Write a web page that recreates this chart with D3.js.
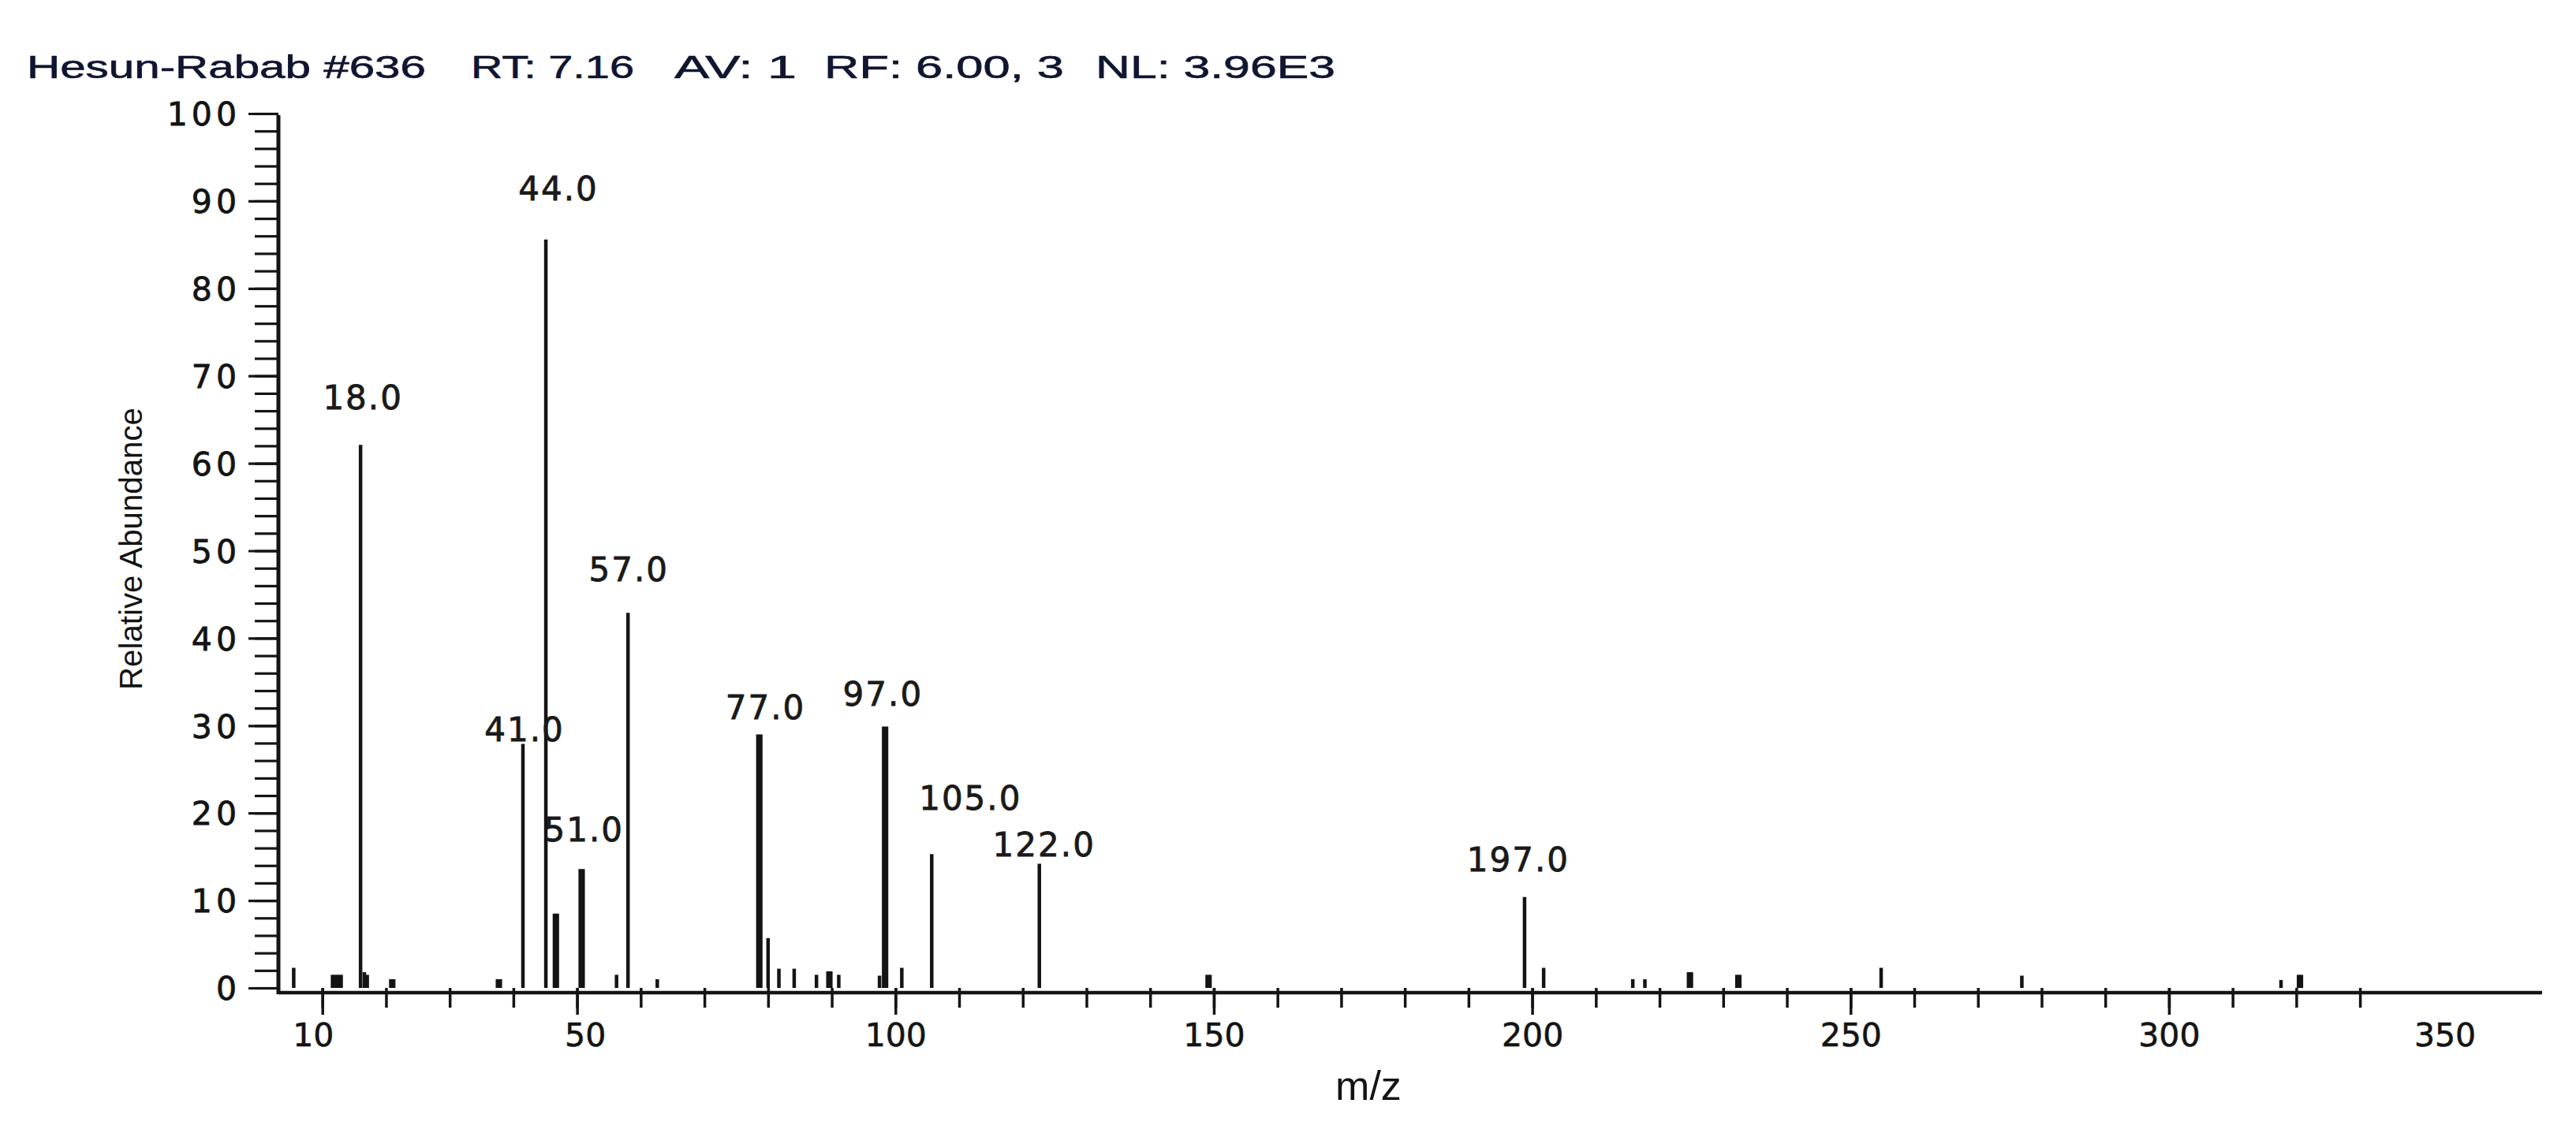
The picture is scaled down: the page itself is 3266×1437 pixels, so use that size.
<!DOCTYPE html>
<html><head><meta charset="utf-8">
<script src="https://cdn.jsdelivr.net/npm/d3@7"></script>
<style>html,body{margin:0;padding:0;background:#fff;} svg{display:block;}</style>
</head><body>
<svg id="chart" width="3266" height="1437"></svg>
<script>
// ---------------- data ----------------
const titleParts = ["Hesun-Rabab #636", "RT: 7.16", "AV: 1", "RF: 6.00, 3", "NL: 3.96E3"];

const peakMz = [5.5, 11.6, 12.05, 12.5, 12.95, 16.0, 16.6, 17.05, 20.75, 21.2, 37.5, 37.95, 41.5, 45.1, 46.45, 46.9,
  50.5, 50.95, 56.2, 58.0, 62.6, 78.4, 78.85, 80.0, 81.7, 84.1, 87.6, 89.4, 89.85, 91.1, 97.5, 98.15, 98.6,
  101.0, 105.7, 122.6, 148.95, 149.4, 198.8, 201.8, 215.8, 217.7, 224.55, 225.0, 232.15, 232.6, 254.8,
  276.9, 317.6, 320.35, 320.8];
const peakAbund = [2.3, 1.5, 1.5, 1.5, 1.5, 62.1, 1.8, 1.5, 1.0, 1.0, 1.0, 1.0, 27.9, 85.6, 8.5, 8.5,
  13.6, 13.6, 1.5, 42.9, 1.0, 29.0, 29.0, 5.7, 2.2, 2.2, 1.5, 1.9, 1.9, 1.5, 1.4, 29.9, 29.9,
  2.3, 15.3, 14.2, 1.5, 1.5, 10.4, 2.3, 1.0, 1.0, 1.8, 1.8, 1.5, 1.5, 2.3,
  1.4, 0.9, 1.5, 1.5];

const labelText  = ["18.0", "41.0", "44.0", "51.0", "57.0", "77.0", "97.0", "105.0", "122.0", "197.0"];
const labelMz    = [16.0, 41.5, 45.1, 50.7, 58.0, 78.6, 98.4, 105.7, 122.6, 198.8];
const labelAbund = [62.1, 27.9, 85.6, 13.6, 42.9, 29.0, 29.9, 15.3, 14.2, 10.4];

const xMinorTicks = [10,20,30,40,50,60,70,80,90,100,110,120,130,140,150,160,170,180,190,200,
  210,220,230,240,250,260,270,280,290,300,310,320,330];
const xMajorTicks = [10, 50, 100, 150, 200, 250, 300];
const xTickLabels = ["10", "50", "100", "150", "200", "250", "300", "350"];
const xLabelValues = [10, 50, 100, 150, 200, 250, 300, 350];
const yTickLabels = ["0","10","20","30","40","50","60","70","80","90","100"];
const yLabelValues = [0,10,20,30,40,50,60,70,80,90,100];
const yMinorTicks = d3.range(0, 101, 2);
const xAxisTitle = "m/z";
const yAxisTitle = "Relative Abundance";

// ---------------- layout ----------------
const titleLayout = [[34, 506], [597, 207], [855, 155], [1045, 304], [1389, 304]]; // [x, width]
const labelLayout = [[3,45],[2,4],[16,50],[3,35],[1,40],[8,19],[-3,26],[49,56],[6,10],[-8,33]]; // [dx, gap]
const xLabelNudge = [-12, 10, 0, 0, 0, 0, 0, -54];
const ink = "#141414";

const svg = d3.select("#chart");
svg.append("rect").attr("width", 3266).attr("height", 1437).attr("fill", "#fff");

const x = d3.scaleLinear().domain([3.1, 358.6]).range([353, 3223]);
const y = d3.scaleLinear().domain([0, 100]).range([1253, 144]);
const axisLineY = y(0) + 6;

// title
svg.selectAll("text.title").data(titleParts).join("text")
  .attr("class", "title")
  .attr("x", (d, i) => titleLayout[i][0])
  .attr("y", 99)
  .attr("textLength", (d, i) => titleLayout[i][1])
  .attr("lengthAdjust", "spacingAndGlyphs")
  .attr("font-family", "Liberation Sans, Arial, sans-serif")
  .attr("font-size", 40)
  .attr("fill", "#101530")
  .attr("stroke", "#101530").attr("stroke-width", 0.6)
  .text(d => d);

// y axis minor ticks
svg.append("g").attr("transform", `translate(${x.range()[0]},0)`)
  .call(d3.axisLeft(y).tickValues(yMinorTicks).tickSize(30).tickFormat(""))
  .call(g => g.select(".domain").remove())
  .call(g => g.selectAll("line").attr("stroke", ink).attr("stroke-width", 3.2));

// y axis major ticks + labels
svg.append("g").attr("transform", `translate(${x.range()[0]},0)`)
  .call(d3.axisLeft(y).tickValues(yLabelValues).tickSize(38).tickPadding(10)
    .tickFormat((d, i) => yTickLabels[i]))
  .call(g => g.select(".domain").remove())
  .call(g => g.selectAll("line").attr("stroke", ink).attr("stroke-width", 3.2))
  .call(g => g.selectAll("text")
    .attr("font-family", "DejaVu Sans, sans-serif").attr("font-size", 41)
    .attr("letter-spacing", 5).attr("fill", ink).attr("dy", "0.36em")
    .attr("stroke", ink).attr("stroke-width", 0.8));

// y axis line
svg.append("line")
  .attr("x1", x.range()[0]).attr("x2", x.range()[0])
  .attr("y1", y(100) + 2).attr("y2", axisLineY + 2)
  .attr("stroke", ink).attr("stroke-width", 5);

// x axis line
svg.append("line")
  .attr("x1", x.range()[0]).attr("x2", x.range()[1])
  .attr("y1", axisLineY).attr("y2", axisLineY)
  .attr("stroke", ink).attr("stroke-width", 4.5);

// x minor ticks
svg.append("g").attr("transform", `translate(0,${y(0)})`)
  .call(d3.axisBottom(x).tickValues(xMinorTicks).tickSize(25).tickFormat(""))
  .call(g => g.select(".domain").remove())
  .call(g => g.selectAll("line").attr("stroke", ink).attr("stroke-width", 3.5));

// x major ticks
svg.append("g").attr("transform", `translate(0,${y(0)})`)
  .call(d3.axisBottom(x).tickValues(xMajorTicks).tickSize(34).tickFormat(""))
  .call(g => g.select(".domain").remove())
  .call(g => g.selectAll("line").attr("stroke", ink).attr("stroke-width", 3.5));

// x tick labels
svg.append("g").attr("transform", `translate(0,${y(0)})`)
  .call(d3.axisBottom(x).tickValues(xLabelValues).tickSize(0)
    .tickFormat((d, i) => xTickLabels[i]))
  .call(g => g.select(".domain").remove())
  .call(g => g.selectAll("text")
    .attr("x", (d, i) => xLabelNudge[i])
    .attr("y", 74).attr("dy", 0)
    .attr("font-family", "DejaVu Sans, sans-serif").attr("font-size", 41)
    .attr("fill", ink).attr("stroke", ink).attr("stroke-width", 0.6));

// peaks
svg.append("g").selectAll("line").data(peakMz).join("line")
  .attr("x1", d => x(d)).attr("x2", d => x(d))
  .attr("y1", y(0)).attr("y2", (d, i) => y(peakAbund[i]))
  .attr("stroke", ink).attr("stroke-width", 4.5);

// peak labels
svg.append("g").selectAll("text").data(labelText).join("text")
  .attr("x", (d, i) => x(labelMz[i]) + labelLayout[i][0])
  .attr("y", (d, i) => y(labelAbund[i]) - labelLayout[i][1])
  .attr("text-anchor", "middle")
  .attr("font-family", "DejaVu Sans, sans-serif")
  .attr("font-size", 42)
  .attr("letter-spacing", 2)
  .attr("fill", "#1a1a1a")
  .attr("stroke", "#1a1a1a").attr("stroke-width", 0.8)
  .text(d => d);

// axis titles
svg.append("text")
  .attr("x", 1735).attr("y", 1395)
  .attr("text-anchor", "middle")
  .attr("font-family", "Liberation Sans, Arial, sans-serif")
  .attr("font-size", 52).attr("fill", ink)
  .text(xAxisTitle);

svg.append("text")
  .attr("transform", "translate(180,696) rotate(-90)")
  .attr("text-anchor", "middle")
  .attr("textLength", 358).attr("lengthAdjust", "spacingAndGlyphs")
  .attr("font-family", "Liberation Sans, Arial, sans-serif")
  .attr("font-size", 40).attr("fill", ink)
  .text(yAxisTitle);
</script>
</body></html>
